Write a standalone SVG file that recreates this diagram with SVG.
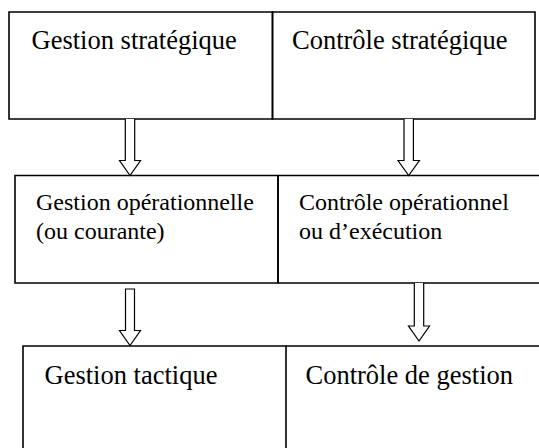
<svg xmlns="http://www.w3.org/2000/svg" width="539" height="448" viewBox="0 0 539 448">
  <style>
    .box { fill: none; stroke: #000; stroke-width: 1.6; }
    .arrow { fill: #fff; stroke: #000; stroke-width: 1.2; stroke-linejoin: miter; }
    text { font-family: 'Liberation Serif', 'Times New Roman', serif; fill: #000; }
    .big { font-size: 26.5px; }
    .mid { font-size: 24px; }
  </style>
  <rect width="539" height="448" fill="#fff"/>

  <!-- strategic level -->
  <g id="gestion-strategique">
    <path class="box" d="M9,12 H272.5 V119 H9 Z"/>
    <text class="big" x="31.5" y="49">Gestion stratégique</text>
  </g>
  <g id="controle-strategique">
    <path class="box" d="M272.5,12 H535 V119 H272.5 Z"/>
    <text class="big" x="292" y="49">Contrôle stratégique</text>
  </g>

  <!-- operational level -->
  <g id="gestion-operationnelle">
    <path class="box" d="M15,175.5 H278 V283 H15 Z"/>
    <text class="mid" x="36" y="210">Gestion opérationnelle</text>
    <text class="mid" x="36" y="239">(ou courante)</text>
  </g>
  <g id="controle-operationnel">
    <path class="box" d="M278,175.5 H545 M278,283 H545 M278,175.5 V283"/>
    <text class="mid" x="299" y="210">Contrôle opérationnel</text>
    <text class="mid" x="299" y="239">ou d’exécution</text>
  </g>

  <!-- tactical level -->
  <g id="gestion-tactique">
    <path class="box" d="M23,455 V346 H286 V455"/>
    <text class="big" x="44.5" y="384">Gestion tactique</text>
  </g>
  <g id="controle-de-gestion">
    <path class="box" d="M286,346 H545"/>
    <text class="big" x="305.5" y="384">Contrôle de gestion</text>
  </g>

  <!-- hollow block arrows between levels -->
  <g id="connectors">
    <path class="arrow" d="M125.3,119 V160.5 H119.5 L130,175.5 L140.5,160.5 H134.7 V119"/>
    <path class="arrow" d="M404,119 V160.5 H398 L408.7,175.5 L419.4,160.5 H413.4 V119"/>
    <path class="arrow" d="M125.5,289 V330.5 H119.5 L130,345.5 L140.5,330.5 H134.5 V289 Z"/>
    <path class="arrow" d="M414.3,283 V326 H408.5 L419,341 L429.5,326 H423.7 V283"/>
  </g>
</svg>
